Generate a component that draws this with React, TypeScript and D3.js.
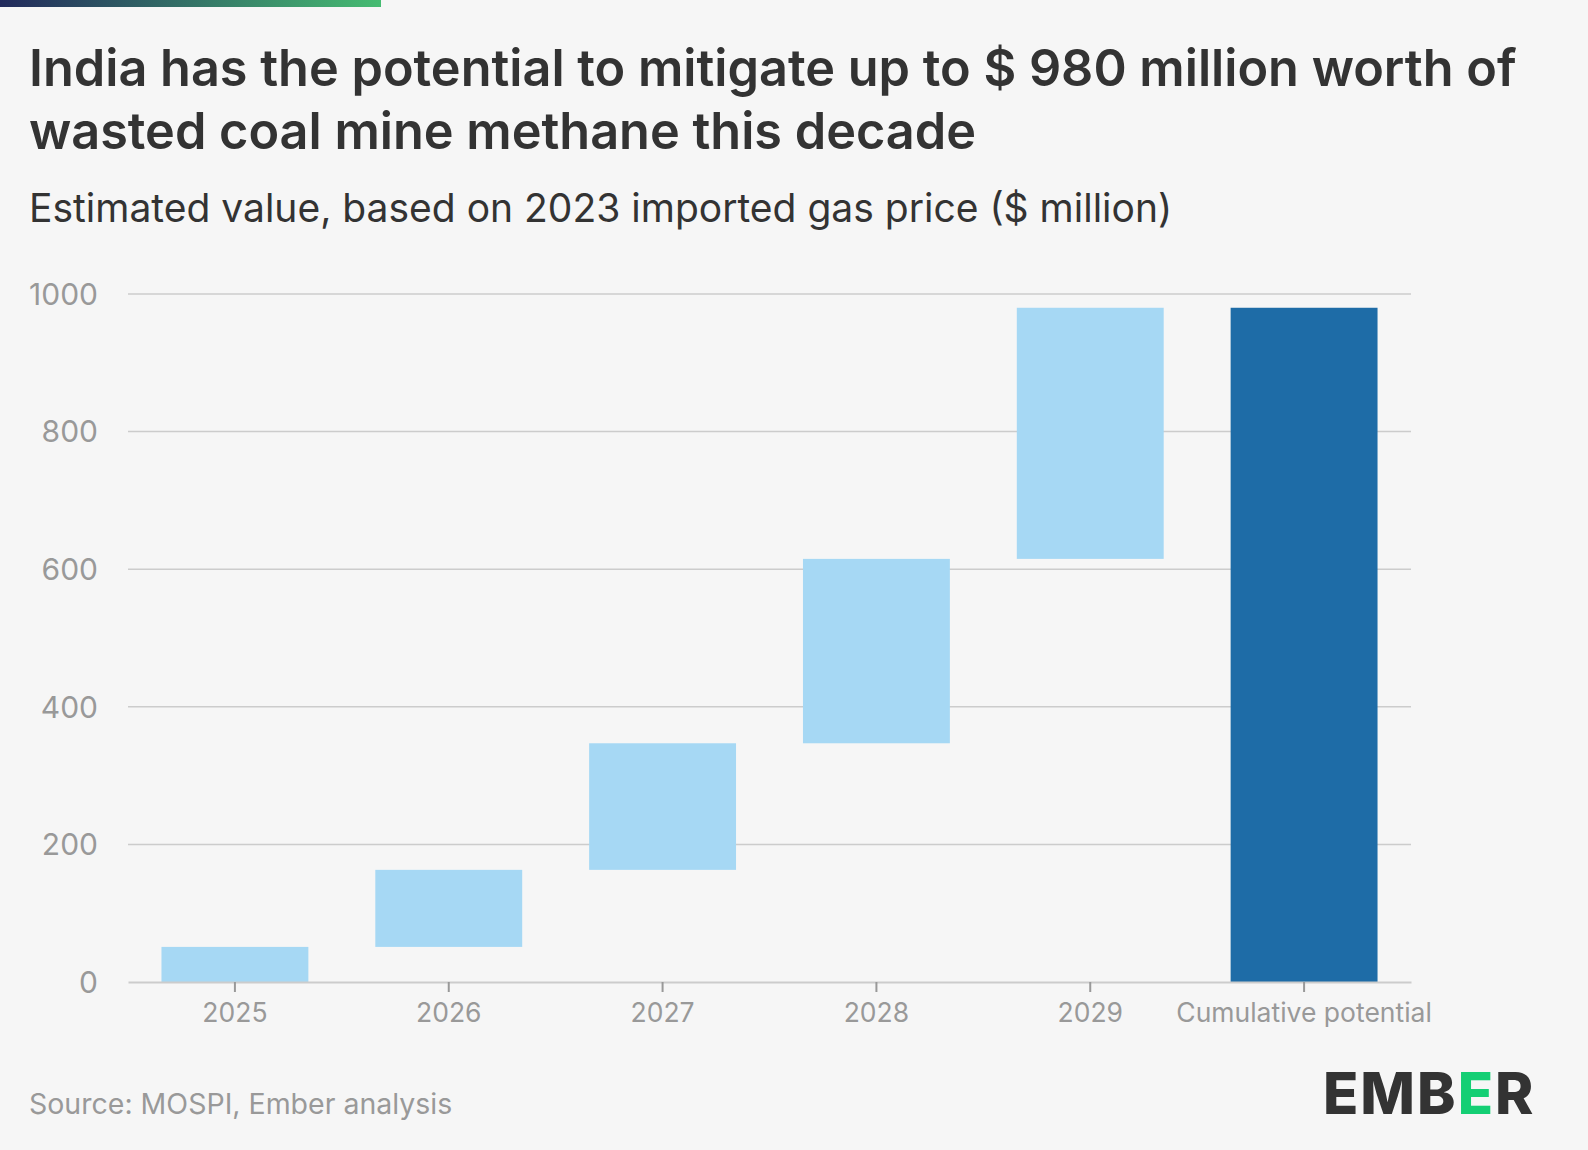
import * as d3 from 'd3';
import React, { useEffect, useRef } from 'react';

const W = 1588;
const H = 1150;

const categories = ["2025", "2026", "2027", "2028", "2029", "Cumulative potential"];
const yearIncrements = [51, 112, 184, 268, 365];
const cumulativeTotal = 980;
const yTicks = [0, 200, 400, 600, 800, 1000];

const titleLines = [
  "India has the potential to mitigate up to $ 980 million worth of",
  "wasted coal mine methane this decade",
];
const subtitle = "Estimated value, based on 2023 imported gas price ($ million)";
const source = "Source: MOSPI, Ember analysis";

const FONT = "Inter, 'Open Sans', sans-serif";

type Bar = { cat: string; y0: number; y1: number; total: boolean };

export default function App() {
  const svgRef = useRef(null);

  const margin = { top: 294, right: 177, bottom: 168, left: 128 };
  const width = W - margin.left - margin.right;
  const height = H - margin.top - margin.bottom;

  useEffect(() => {
    document.body.style.margin = "0";
    const svg = d3.select(svgRef.current);
    svg.selectAll("*").remove();

    svg.append("rect").attr("width", W).attr("height", H).attr("fill", "#f6f6f6");

    // top gradient strip
    const grad = svg.append("defs").append("linearGradient").attr("id", "topGrad");
    grad.append("stop").attr("offset", "0%").attr("stop-color", "#222a5c");
    grad.append("stop").attr("offset", "100%").attr("stop-color", "#46bc72");
    svg.append("rect").attr("x", 0).attr("y", 0).attr("width", 381).attr("height", 7).attr("fill", "url(#topGrad)");

    // titles
    svg.append("g")
      .selectAll("text")
      .data(titleLines)
      .join("text")
      .attr("x", 29)
      .attr("y", (d, i) => 86 + i * 63)
      .attr("font-family", FONT)
      .attr("font-weight", 600)
      .attr("font-size", 50.4)
      .attr("fill", "#333")
      .text(d => d);

    svg.append("text")
      .attr("x", 29)
      .attr("y", 222)
      .attr("font-family", FONT)
      .attr("font-size", 39)
      .attr("fill", "#333")
      .text(subtitle);

    const svgEl = svg.append("g").attr("transform", `translate(${margin.left}, ${margin.top})`);

    const y = d3.scaleLinear().domain([0, 1000]).range([height, 0]);
    const x = d3.scaleBand().domain(categories).range([0, width]).paddingInner(0.313).paddingOuter(0.1565);

    // gridlines
    svgEl.append("g")
      .selectAll("line")
      .data(yTicks.filter(t => t > 0))
      .join("line")
      .attr("x1", 0)
      .attr("x2", width)
      .attr("y1", d => y(d))
      .attr("y2", d => y(d))
      .attr("stroke", "#cccccc")
      .attr("stroke-width", 1.5);

    // y labels
    svgEl.append("g")
      .selectAll("text")
      .data(yTicks)
      .join("text")
      .attr("x", -30)
      .attr("y", d => y(d))
      .attr("dy", "0.36em")
      .attr("text-anchor", "end")
      .attr("font-family", FONT)
      .attr("font-size", 30)
      .attr("fill", "#999")
      .text(d => `${d}`);

    // waterfall bars
    const cum = d3.cumsum(yearIncrements);
    const bars: Bar[] = yearIncrements.map((v, i) => ({
      cat: categories[i],
      y0: i === 0 ? 0 : cum[i - 1],
      y1: cum[i],
      total: false,
    }));
    bars.push({ cat: categories[5], y0: 0, y1: cumulativeTotal, total: true });

    svgEl.append("g")
      .selectAll("rect")
      .data(bars)
      .join("rect")
      .attr("x", d => x(d.cat) as number)
      .attr("width", x.bandwidth())
      .attr("y", d => y(d.y1))
      .attr("height", d => y(d.y0) - y(d.y1))
      .attr("fill", d => (d.total ? "#1e6ca7" : "#a6d8f4"));

    // x axis
    const xAxis = d3.axisBottom(x).tickSize(10).tickSizeOuter(0).tickPadding(11);
    const xAxisGroup = svgEl.append("g")
      .attr("transform", `translate(0, ${height})`)
      .call(xAxis);
    xAxisGroup.select(".domain").attr("stroke", "#cccccc").attr("stroke-width", 2);
    xAxisGroup.selectAll(".tick line").attr("stroke", "#999").attr("stroke-width", 2);
    xAxisGroup.selectAll(".tick text")
      .attr("font-family", FONT)
      .attr("font-size", 26.5)
      .attr("fill", "#999");

    // source
    svg.append("text")
      .attr("x", 29)
      .attr("y", 1114)
      .attr("font-family", FONT)
      .attr("font-size", 28.5)
      .attr("fill", "#999")
      .text(source);

    // logo
    const logo = svg.append("text")
      .attr("x", 1323)
      .attr("y", 1114)
      .attr("font-family", FONT)
      .attr("font-weight", 800)
      .attr("font-size", 58)
      .attr("letter-spacing", 2)
      .attr("fill", "#333");
    logo.append("tspan").text("EMB");
    logo.append("tspan").attr("fill", "#14cf74").text("E");
    logo.append("tspan").text("R");
  }, []);

  return <svg ref={svgRef} width={W} height={H} style={{ display: "block" }} />;
}
